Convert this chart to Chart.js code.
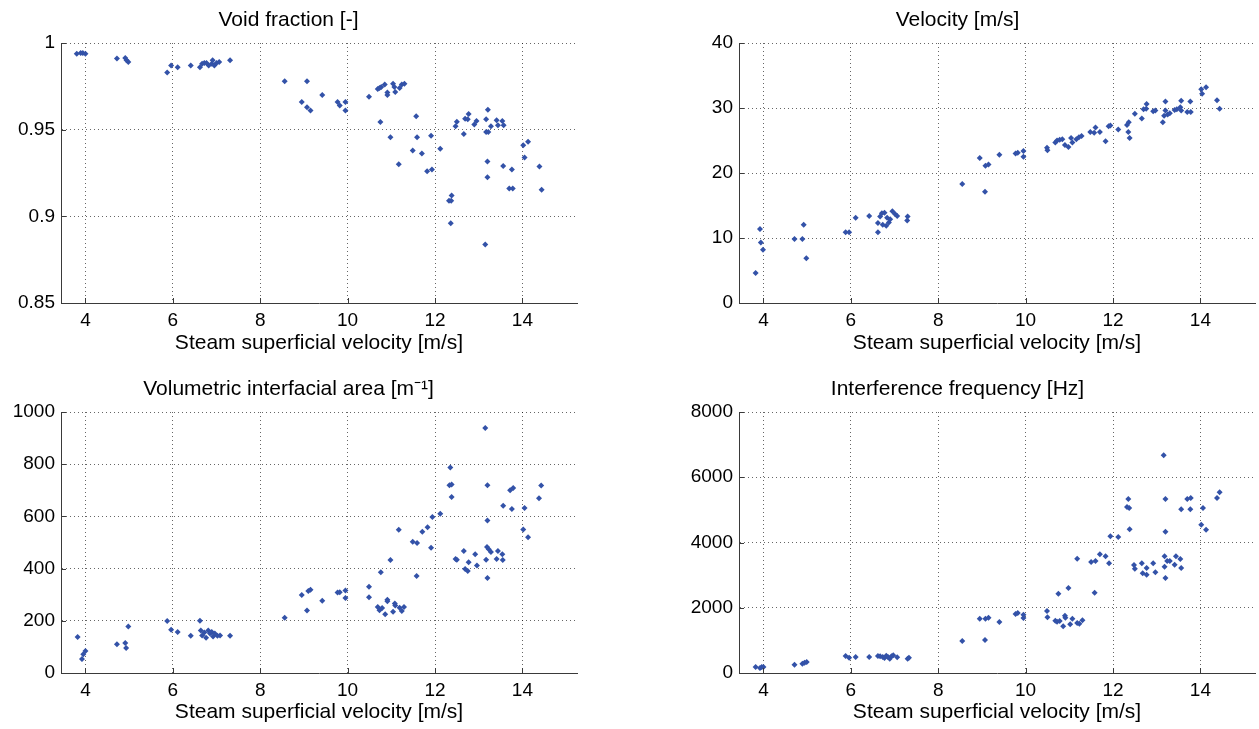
<!DOCTYPE html>
<html>
<head>
<meta charset="utf-8">
<script src="https://cdn.jsdelivr.net/npm/chart.js@4/dist/chart.umd.min.js"></script>
<style>
  body { margin: 0; background: #fff; }
  canvas { position: absolute; }
</style>
</head>
<body>
<canvas id="cVoid" width="620" height="365" style="left:0;top:0"></canvas>
<canvas id="cVel" width="599" height="365" style="left:660px;top:0"></canvas>
<canvas id="cArea" width="620" height="364" style="left:0;top:365px"></canvas>
<canvas id="cFreq" width="599" height="364" style="left:660px;top:365px"></canvas>
<script>
// Void fraction [-]
const voidX = [3.80, 3.89, 3.94, 4.00, 4.72, 4.91, 4.94, 4.98, 5.87, 5.96, 6.11, 6.41, 6.62, 6.67, 6.72, 6.77, 6.82, 6.89, 6.91, 6.95, 7.00, 7.06, 7.31,
  8.56, 9.07, 8.95, 9.07, 9.15, 9.42, 9.77, 9.82, 9.95, 9.95,
  10.49, 10.69, 10.73, 10.77, 10.85, 10.91, 10.91, 11.04, 11.07, 11.09, 11.19, 11.24, 11.30,
  10.75, 10.98, 11.17, 11.49, 11.57, 11.59, 11.70, 11.82, 11.93, 11.91, 12.12,
  12.32, 12.37, 12.38, 12.36, 12.47, 12.50, 12.66, 12.69, 12.77, 12.75, 12.90, 12.95, 13.17, 13.21, 13.17, 13.22, 13.28, 13.20, 13.20, 13.15,
  13.41, 13.44, 13.54, 13.57, 13.56, 13.70, 13.78, 13.76, 14.02, 14.13, 14.05, 14.39, 14.44];
const voidY = [0.9938, 0.9942, 0.9942, 0.9938, 0.9910, 0.9913, 0.9900, 0.9890, 0.9830, 0.9870, 0.9860, 0.9870, 0.9860, 0.9880, 0.9885, 0.9885, 0.9870, 0.9880, 0.9900, 0.9870, 0.9885, 0.9890, 0.9900,
  0.9780, 0.9780, 0.9660, 0.9630, 0.9610, 0.9700, 0.9660, 0.9640, 0.9660, 0.9610,
  0.9690, 0.9735, 0.9740, 0.9746, 0.9760, 0.9715, 0.9700, 0.9765, 0.9746, 0.9717, 0.9740, 0.9760, 0.9765,
  0.9544, 0.9456, 0.9300, 0.9380, 0.9577, 0.9456, 0.9363, 0.9260, 0.9270, 0.9465, 0.9390,
  0.9090, 0.9090, 0.9120, 0.8960, 0.9520, 0.9546, 0.9475, 0.9563, 0.9590, 0.9560, 0.9530, 0.9550, 0.9560, 0.9615, 0.9487, 0.9487, 0.9520, 0.9317, 0.9225, 0.8837,
  0.9554, 0.9525, 0.9550, 0.9525, 0.9290, 0.9160, 0.9160, 0.9270, 0.9410, 0.9430, 0.9340, 0.9287, 0.9154];

// Velocity [m/s]
const velX = [3.82, 3.92, 3.94, 3.99, 4.71, 4.89, 4.92, 4.98, 5.88, 5.96, 6.11, 6.42, 6.62, 6.62, 6.67, 6.71, 6.73, 6.77, 6.81, 6.83, 6.87, 6.90, 6.95, 7.01, 7.06, 7.30, 7.29,
  8.55, 8.95, 9.07, 9.08, 9.15, 9.40, 9.77, 9.82, 9.95, 9.95,
  10.49, 10.50, 10.68, 10.72, 10.78, 10.84, 10.90, 10.98, 11.04, 11.07, 11.16, 11.22, 11.28, 11.48, 11.57, 11.60, 11.70, 11.83, 11.90, 11.94,
  12.12, 12.32, 12.36, 12.35, 12.38, 12.50, 12.66, 12.70, 12.77, 12.76, 12.92, 12.97, 13.14, 13.17, 13.20, 13.20, 13.25, 13.30, 13.41, 13.46, 13.54, 13.56, 13.56, 13.70, 13.77, 13.78,
  14.02, 14.04, 14.13, 14.38, 14.44];
const velY = [4.6, 11.4, 9.3, 8.2, 9.85, 9.85, 12.05, 6.9, 10.9, 10.9, 13.1, 13.4, 10.9, 12.3, 13.3, 13.8, 12.05, 13.9, 11.9, 13.1, 12.4, 12.9, 14.1, 13.7, 13.4, 13.3, 12.7,
  18.3, 22.3, 17.1, 21.1, 21.3, 22.8, 23.0, 23.1, 23.4, 22.5,
  23.9, 23.5, 24.7, 25.0, 25.1, 25.2, 24.3, 24.0, 25.4, 24.7, 25.2, 25.5, 25.7, 26.3, 26.2, 27.0, 26.3, 24.9, 27.2, 27.3,
  26.7, 27.4, 27.8, 26.3, 25.4, 29.1, 28.4, 29.8, 30.6, 29.9, 29.5, 29.6, 27.8, 28.8, 31.0, 29.6, 29.0, 29.2, 29.7, 29.8, 30.1, 31.1, 29.6, 29.4, 31.0, 29.4,
  32.9, 32.2, 33.2, 31.2, 29.9];

// Volumetric interfacial area [m^-1]
const areaX = [3.82, 3.92, 3.95, 4.00, 4.72, 4.91, 4.93, 4.98, 5.87, 5.96, 6.11, 6.41, 6.62, 6.64, 6.67, 6.72, 6.76, 6.81, 6.85, 6.89, 6.92, 6.96, 7.02, 7.08, 7.31,
  8.56, 8.95, 9.07, 9.10, 9.15, 9.42, 9.77, 9.82, 9.95, 9.95,
  10.49, 10.49, 10.69, 10.73, 10.76, 10.79, 10.86, 10.91, 10.91, 10.98, 11.04, 11.08, 11.09, 11.17, 11.19, 11.24, 11.29,
  11.49, 11.58, 11.59, 11.71, 11.83, 11.91, 11.94, 12.12,
  12.35, 12.33, 12.38, 12.38, 12.47, 12.50, 12.66, 12.69, 12.75, 12.77, 12.92, 12.96,
  13.15, 13.17, 13.19, 13.20, 13.20, 13.20, 13.23, 13.28, 13.41, 13.44, 13.54, 13.55, 13.56, 13.72, 13.76, 13.79,
  14.02, 14.05, 14.13, 14.38, 14.43];
const areaY = [138, 54, 72, 84, 110, 115, 96, 178, 199, 166, 157, 143, 200, 163, 144, 155, 135, 163, 151, 157, 140, 151, 143, 144, 143,
  212, 299, 239, 314, 319, 277, 308, 309, 316, 287,
  330, 290, 253, 240, 386, 249, 225, 281, 275, 433, 235, 266, 259, 549, 250, 238, 253,
  503, 372, 498, 541, 558, 480, 598, 610,
  787, 719, 722, 674, 437, 434, 467, 398, 391, 424, 455, 412,
  939, 434, 483, 719, 584, 364, 474, 464, 437, 467, 455, 433, 641, 700, 628, 709,
  550, 632, 520, 670, 718];

// Interference frequency [Hz]
const freqX = [3.82, 3.92, 3.96, 4.00, 4.71, 4.89, 4.94, 4.99, 5.88, 5.96, 6.11, 6.42, 6.62, 6.67, 6.73, 6.77, 6.81, 6.85, 6.89, 6.93, 6.97, 7.06, 7.30, 7.33,
  8.55, 8.95, 9.07, 9.08, 9.15, 9.40, 9.77, 9.82, 9.95, 9.95,
  10.49, 10.50, 10.68, 10.72, 10.75, 10.78, 10.86, 10.90, 10.91, 10.98, 11.02, 11.07, 11.18, 11.18, 11.23, 11.30,
  11.50, 11.58, 11.60, 11.70, 11.83, 11.91, 11.94, 12.12,
  12.35, 12.32, 12.37, 12.38, 12.48, 12.50, 12.66, 12.68, 12.77, 12.77, 12.92, 12.97,
  13.16, 13.20, 13.20, 13.18, 13.18, 13.20, 13.24, 13.30, 13.41, 13.44, 13.54, 13.56, 13.56, 13.70, 13.77, 13.78,
  14.02, 14.06, 14.13, 14.38, 14.44];
const freqY = [184, 153, 184, 184, 255, 286, 317, 337, 521, 470, 490, 490, 521, 511, 490, 460, 531, 490, 439, 511, 541, 480, 439, 470,
  981, 1665, 1012, 1665, 1696, 1563, 1808, 1839, 1788, 1686,
  1900, 1706, 1604, 1573, 2432, 1594, 1430, 1757, 1696, 2605, 1492, 1665, 1533, 3504, 1512, 1614,
  3402, 2462, 3433, 3637, 3576, 3361, 4189, 4168,
  5333, 5088, 5057, 4404, 3310, 3198, 3361, 3055, 3218, 3014, 3361, 3085,
  6672, 5333, 4332, 3576, 3259, 2912, 3433, 3433, 3320, 3576, 3494, 5017, 3218, 5333, 5017, 5364,
  4546, 5057, 4393, 5364, 5538];

// axes
const xMin = 3.44, xMax = 15.25;
const xTicks = [4, 6, 8, 10, 12, 14];
const voidTicks = [0.85, 0.9, 0.95, 1];
const velTicks = [0, 10, 20, 30, 40];
const areaTicks = [0, 200, 400, 600, 800, 1000];
const freqTicks = [0, 2000, 4000, 6000, 8000];
const xLabel = "Steam superficial velocity [m/s]";

const FONT = "'Liberation Sans', Arial, Helvetica, sans-serif";
const BLUE = "#3352a8";
const AXIS = "#3a3a3a";

// MATLAB style inward tick marks
const innerTicks = {
  id: "innerTicks",
  afterDraw(chart) {
    const { ctx, chartArea: a, scales: { x, y } } = chart;
    ctx.save();
    ctx.strokeStyle = AXIS;
    ctx.lineWidth = 1;
    ctx.beginPath();
    x.ticks.forEach(t => {
      const px = Math.round(x.getPixelForValue(t.value)) + 0.5;
      ctx.moveTo(px, a.bottom);
      ctx.lineTo(px, a.bottom - 5);
    });
    y.ticks.forEach(t => {
      const py = Math.round(y.getPixelForValue(t.value)) + 0.5;
      ctx.moveTo(a.left, py);
      ctx.lineTo(a.left + 5, py);
    });
    ctx.stroke();
    ctx.restore();
  }
};

function makePlot(id, title, xs, ys, yTicks, o) {
  new Chart(document.getElementById(id), {
    type: "scatter",
    data: {
      datasets: [{
        data: xs.map((v, i) => ({ x: v, y: ys[i] })),
        pointStyle: "rectRot",
        pointRadius: 3,
        pointBorderWidth: 0,
        backgroundColor: BLUE,
        borderColor: BLUE
      }]
    },
    options: {
      responsive: false,
      animation: false,
      layout: { padding: { left: 0, right: o.padRight, top: 0, bottom: 0 } },
      plugins: {
        legend: { display: false },
        tooltip: { enabled: false },
        title: {
          display: true,
          text: title,
          color: "#000",
          font: { family: FONT, size: 21, weight: "normal", lineHeight: 1.2 },
          padding: { top: o.titleTop, bottom: o.titleBottom }
        }
      },
      scales: {
        x: {
          type: "linear",
          min: xMin,
          max: xMax,
          afterBuildTicks: s => { s.ticks = xTicks.map(v => ({ value: v })); },
          afterFit: s => { s.height = o.xHeight; },
          grid: { color: "rgba(0,0,0,0.6)", lineWidth: 1, drawTicks: false },
          border: { display: true, color: AXIS, width: 1, dash: [1, 3] },
          ticks: { color: "#000", font: { family: FONT, size: 19 }, padding: 6, maxRotation: 0,
            callback: v => String(v) },
          title: { display: true, text: xLabel, color: "#000",
            font: { family: FONT, size: 21, lineHeight: 1.2 }, padding: { top: 0, bottom: o.xTitleBottom } }
        },
        y: {
          type: "linear",
          min: yTicks[0],
          max: yTicks[yTicks.length - 1],
          afterBuildTicks: s => { s.ticks = yTicks.map(v => ({ value: v })); },
          afterFit: s => { s.width = o.yWidth; },
          grid: { color: "rgba(0,0,0,0.6)", lineWidth: 1, drawTicks: false },
          border: { display: true, color: AXIS, width: 1, dash: [1, 3] },
          ticks: { color: "#000", font: { family: FONT, size: 19 }, padding: 6,
            callback: v => String(v) }
        }
      }
    },
    plugins: [innerTicks]
  });
}

const topRow = { titleTop: 7.4, titleBottom: 10.4, xHeight: 62, xTitleBottom: 9.4 };
const bottomRow = { titleTop: 11.4, titleBottom: 10.4, xHeight: 56, xTitleBottom: 4.4 };

makePlot("cVoid", "Void fraction [-]", voidX, voidY, voidTicks, { ...topRow, yWidth: 61, padRight: 43 });
makePlot("cVel", "Velocity [m/s]", velX, velY, velTicks, { ...topRow, yWidth: 79, padRight: 4 });
makePlot("cArea", "Volumetric interfacial area [m\u207B\u00B9]", areaX, areaY, areaTicks, { ...bottomRow, yWidth: 61, padRight: 43 });
makePlot("cFreq", "Interference frequency [Hz]", freqX, freqY, freqTicks, { ...bottomRow, yWidth: 79, padRight: 4 });
</script>
</body>
</html>
